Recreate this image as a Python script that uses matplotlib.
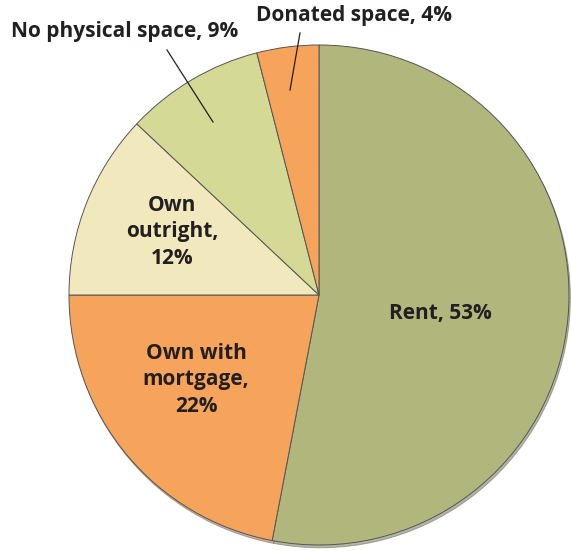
import matplotlib.pyplot as plt

categories = ['Rent', 'Own with mortgage', 'Own outright', 'No physical space', 'Donated space']
shares = [53, 22, 12, 9, 4]
colors = ['#b1b77c', '#f6a35c', '#f1e9bd', '#d4da95', '#f6a35c']

label_texts = ['Rent, 53%', 'Own with\nmortgage,\n22%', 'Own\noutright,\n12%',
               'No physical space, 9%', 'Donated space, 4%']

plt.rcParams['font.family'] = ['Open Sans', 'DejaVu Sans']

fig = plt.figure(figsize=(5.71, 5.51), dpi=100)
ax = fig.add_axes([0, 0, 1, 1])

# pixel -> data helper (pie center at px (319,295), radius 250 px)
def px(x, y):
    return (x - 319) / 250, (295 - y) / 250

wedges, _ = ax.pie(shares, colors=colors, startangle=90, counterclock=False,
                   radius=1.0, center=(0, 0),
                   wedgeprops=dict(edgecolor='#555555', linewidth=0.7),
                   shadow=dict(ox=0.004, oy=-0.008, shade=0.5, alpha=0.45))

ax.set_xlim(-319 / 250, (571 - 319) / 250)
ax.set_ylim((295 - 551) / 250, 295 / 250)
ax.set_aspect('equal')
ax.axis('off')

txt = dict(fontsize=15, fontweight='bold', color='#231f20', ha='center', va='center',
           linespacing=1.35)

ax.text(*px(440, 313), label_texts[0], **txt)
ax.text(*px(196, 380), label_texts[1], **txt)
ax.text(*px(172, 232), label_texts[2], **txt)
ax.text(*px(125, 32), label_texts[3], **txt)
ax.text(*px(354, 15), label_texts[4], **txt)

# leader lines
ax.plot(*zip(px(167, 50), px(213, 122)), color='#231f20', lw=0.9)
ax.plot(*zip(px(300, 33), px(290, 90)), color='#231f20', lw=0.9)

fig.savefig('out.png', dpi=100)
